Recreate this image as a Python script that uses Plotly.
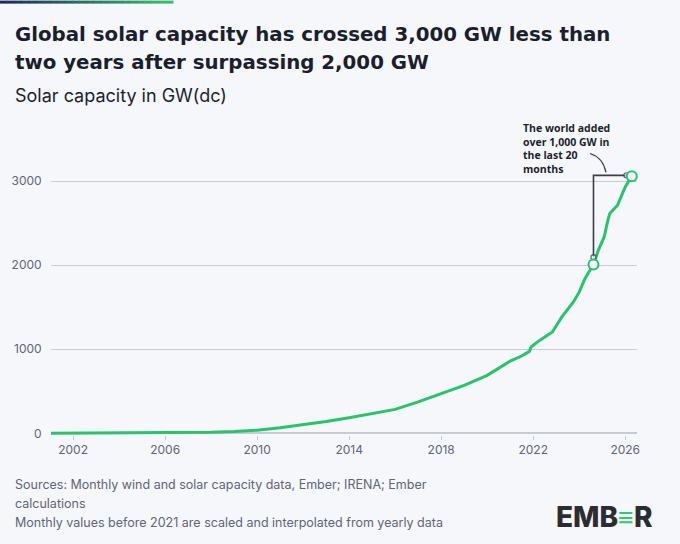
import plotly.graph_objects as go

# Global solar capacity, GW(dc)
dates = ["2001-01-01", "2002-01-01", "2003-01-01", "2004-01-01", "2005-01-01",
         "2006-01-01", "2007-01-01", "2008-01-01", "2009-01-01", "2010-01-01",
         "2011-01-01", "2012-01-01", "2013-01-01", "2014-01-01", "2015-01-01",
         "2016-01-01", "2017-01-01", "2018-01-01", "2019-01-01", "2020-01-01",
         "2021-01-01", "2021-07-01", "2021-11-01", "2021-12-01", "2022-04-01",
         "2022-11-01", "2023-04-01", "2023-10-01", "2024-01-01", "2024-04-01",
         "2024-08-15", "2024-11-01", "2025-02-01", "2025-04-01", "2025-05-01",
         "2025-09-01", "2025-11-01", "2026-01-01", "2026-04-15"]
capacity = [1, 2, 3, 4, 5,
            7, 9, 14, 22, 38,
            65, 100, 140, 185, 232,
            285, 375, 470, 570, 690,
            860, 920, 975, 1030, 1100,
            1206, 1385, 1563, 1680, 1840,
            2010, 2180, 2337, 2536, 2615,
            2714, 2833, 2932, 3060]

milestone_dates = ["2024-08-15", "2026-04-15"]
milestone_values = [2010, 3060]

bracket_dates = ["2024-08-15", "2024-08-15", "2026-01-20"]
bracket_values = [2095, 3070, 3070]

tick_years = [2002, 2006, 2010, 2014, 2018, 2022, 2026]
y_ticks = [0, 1000, 2000, 3000]

BG = "#f5f7fb"
GREEN = "#27c46c"
DARK = "#1b1f2d"
GREY = "#5f6577"
GRID = "#c7cbd3"
FONT = "Inter"
HEAD = "DejaVu Sans"

W, H = 680, 544
L, R, T, B = 51, 43, 155.5, 109.3
pw, ph = W - L - R, H - T - B


def px(x):
    return (x - L) / pw


def py(y):
    return (H - B - y) / ph


fig = go.Figure()

fig.add_trace(go.Scatter(x=dates, y=capacity, mode="lines",
                         line=dict(color=GREEN, width=3), hoverinfo="skip"))

fig.add_trace(go.Scatter(x=bracket_dates, y=bracket_values, mode="lines+markers",
                         line=dict(color="#3a3f4c", width=1.6),
                         marker=dict(size=[5, 0, 5], color="white",
                                     line=dict(color="#3a3f4c", width=1.4)),
                         cliponaxis=False, hoverinfo="skip"))

fig.add_trace(go.Scatter(x=milestone_dates, y=milestone_values, mode="markers",
                         marker=dict(size=10, color=BG, line=dict(color=GREEN, width=2)),
                         cliponaxis=False, hoverinfo="skip"))

# gradient strip at the top left
steps = 24
c0, c1 = (28, 43, 90), (61, 187, 110)
for i in range(steps):
    t = i / (steps - 1)
    col = "rgb({},{},{})".format(*[round(a + (b - a) * t) for a, b in zip(c0, c1)])
    fig.add_shape(type="rect", xref="paper", yref="paper",
                  x0=px(173 * i / steps), x1=px(173 * (i + 1) / steps + 0.5),
                  y0=py(3), y1=py(0), fillcolor=col, line=dict(width=0), layer="above")

# curved pointer from the note to the bracket
fig.add_shape(type="path", xref="paper", yref="paper",
              path="M {} {} Q {} {} {} {}".format(px(590), py(153), px(603), py(157), px(606), py(172)),
              line=dict(color="#3a3f4c", width=1.3))

texts = [
    ("Global solar capacity has crossed 3,000 GW less than", 13, 34, 19.8, DARK, 700, HEAD),
    ("two years after surpassing 2,000 GW", 13, 62, 19.8, DARK, 700, HEAD),
    ("Solar capacity in GW(dc)", 13, 95, 18, DARK, 400, FONT),
    ("Sources: Monthly wind and solar capacity data, Ember; IRENA; Ember", 13, 484, 12.5, GREY, 400, FONT),
    ("calculations", 13, 503, 12.5, GREY, 400, FONT),
    ("Monthly values before 2021 are scaled and interpolated from yearly data", 13, 522, 12.5, GREY, 400, FONT),
]
annotations = []
for txt, x, y, size, col, wt, fam in texts:
    annotations.append(dict(text=txt, xref="paper", yref="paper", x=px(x), y=py(y),
                            xanchor="left", yanchor="middle", showarrow=False,
                            font=dict(family=fam, size=size, color=col, weight=wt)))

annotations.append(dict(text="The world added<br>over 1,000 GW in<br>the last 20<br>months",
                        xref="paper", yref="paper", x=px(521), y=py(118),
                        xanchor="left", yanchor="top", align="left", showarrow=False,
                        font=dict(family="Open Sans", size=10.5, color=DARK, weight=700)))

annotations.append(dict(text="EMB<span style='color:#2ecc71'>\u2261</span>R",
                        xref="paper", yref="paper", x=px(655), y=py(516.5),
                        xanchor="right", yanchor="middle", showarrow=False,
                        font=dict(family=FONT, size=28, color="#2b2d31", weight=800)))

fig.update_layout(
    width=W, height=H,
    margin=dict(l=L, r=R, t=T, b=B),
    paper_bgcolor=BG, plot_bgcolor=BG,
    showlegend=False,
    annotations=annotations,
    xaxis=dict(type="date", range=["2001-01-15", "2026-07-07"],
               tickvals=["{}-01-01".format(y) for y in tick_years],
               ticktext=[str(y) for y in tick_years],
               showgrid=False, zeroline=False, showline=False,
               ticks="outside", ticklen=4, tickcolor=GRID,
               tickfont=dict(family=FONT, size=12, color=GREY),
               automargin=False),
    yaxis=dict(range=[-20, 3300], tickvals=y_ticks, ticktext=[str(v) for v in y_ticks],
               showgrid=True, gridcolor=GRID, gridwidth=1.3,
               zeroline=True, zerolinecolor=GRID, zerolinewidth=1.6,
               ticks="outside", ticklen=6, tickcolor="rgba(0,0,0,0)",
               tickfont=dict(family=FONT, size=12, color=GREY),
               automargin=False),
)

# drop the default page margin so the figure sits at the window corner
fig.write_html("out.html", config={"displayModeBar": False},
               post_script="document.body.style.margin='0';")
